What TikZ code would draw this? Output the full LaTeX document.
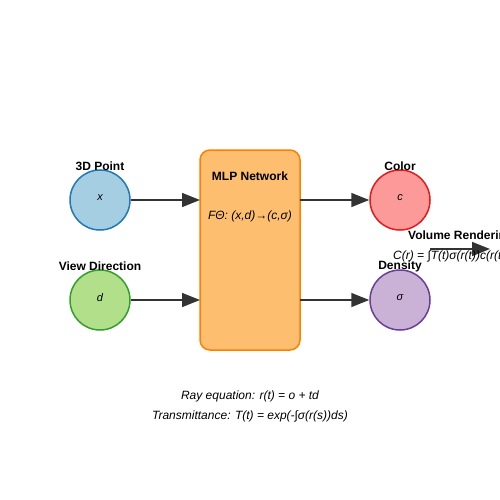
\documentclass[tikz,border=0pt]{standalone}
\usepackage{fontspec}
\setmainfont{Liberation Sans}
\usetikzlibrary{arrows.meta}
\definecolor{blueF}{HTML}{A6CEE3}
\definecolor{blueD}{HTML}{1F78B4}
\definecolor{greenF}{HTML}{B2DF8A}
\definecolor{greenD}{HTML}{33A02C}
\definecolor{redF}{HTML}{FB9A99}
\definecolor{redD}{HTML}{E31A1C}
\definecolor{purF}{HTML}{CAB2D6}
\definecolor{purD}{HTML}{6A3D9A}
\definecolor{orF}{HTML}{FDBF6F}
\definecolor{orD}{HTML}{FF7F00}
\definecolor{arr}{HTML}{333333}
\begin{document}
\begin{tikzpicture}[x=1pt,y=-1pt,
  circ/.style={circle,minimum size=60pt,inner sep=0pt,line width=1.5pt,font=\fontsize{11}{13}\selectfont\itshape},
  lbl/.style={font=\fontsize{12}{14}\selectfont\bfseries,inner sep=0pt},
  conn/.style={draw=arr,line width=1.5pt,-{Triangle[length=18pt,width=14pt]}},
  eq/.style={font=\fontsize{12}{14}\selectfont\itshape,inner sep=0pt}]
\useasboundingbox (0,0) rectangle (500,500);
\clip (0,0) rectangle (500,500);
\node[circ,fill=blueF,draw=blueD] (p) at (100,200) {\raisebox{4pt}{x}};
\node[circ,fill=greenF,draw=greenD] (d) at (100,300) {\raisebox{4pt}{d}};
\node[circ,fill=redF,draw=redD] (c) at (400,200) {\raisebox{4pt}{c}};
\node[circ,fill=purF,draw=purD] (s) at (400,300) {\raisebox{4pt}{σ}};
\node[draw=orD,fill=orF,line width=1.5pt,rounded corners=10pt,minimum width=100pt,minimum height=200pt] (mlp) at (250,250) {};
\node[lbl] (mlpt) at (250,176) {MLP Network};
\node[eq] (mlpf) at (250,216) {FΘ: (x,d)→(c,σ)};
\node[lbl] (pl) at (100,166) {3D Point};
\node[lbl] (dl) at (100,266) {View Direction};
\node[lbl] (cl) at (400,166) {Color};
\node[lbl] (sl) at (400,266) {Density};
\coordinate (m1) at (200,200);
\coordinate (m2) at (200,300);
\coordinate (m3) at (300,200);
\coordinate (m4) at (300,300);
\draw[conn] (p.east) -- (m1);
\draw[conn] (d.east) -- (m2);
\draw[conn] (m3) -- (c.west);
\draw[conn] (m4) -- (s.west);
\coordinate (v1) at (430,249);
\coordinate (v2) at (490,249);
\draw[conn] (v1) -- (v2);
\node[lbl,anchor=west] (vr) at (408,236) {Volume Rendering};
\node[eq,anchor=west] (vf) at (393,256) {C(r) = ∫T(t)σ(r(t))c(r(t),d)dt};
\node[eq] (ray) at (250,396) {Ray equation: r(t) = o + td};
\node[eq] (tr) at (250,416) {Transmittance: T(t) = exp(-∫σ(r(s))ds)};
\end{tikzpicture}
\end{document}
